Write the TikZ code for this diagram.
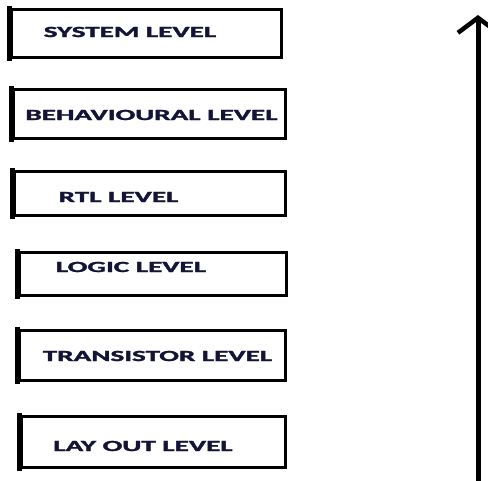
\documentclass[tikz,border=0pt]{standalone}
\usepackage{graphicx}
\usepackage{fontspec}
\setmainfont{Carlito}
\newfontfamily\heavyfont{Carlito Bold}[FakeBold=1.6]
\usetikzlibrary{arrows.meta}
\definecolor{lblcol}{RGB}{20,20,55}
\newcommand{\wide}[1]{\scalebox{1.88}[1]{#1}}
\begin{document}
\begin{tikzpicture}[x=1pt,y=-1pt,
  box/.style={draw=black,line width=3.2pt,fill=none,inner sep=0pt,rectangle},
  lbl/.style={font=\heavyfont\fontsize{15.5}{18}\selectfont,text=lblcol,inner sep=0pt},
  leftedge/.style={line width=5pt,shorten <=-1.6pt,shorten >=-1.6pt}]
\useasboundingbox (0,0) rectangle (488,481);
% boxes
\node[box,minimum width=270pt,minimum height=48pt] (b1) at (146.5,33.5) {};
\node[box,minimum width=272pt,minimum height=49pt] (b2) at (149.5,114) {};
\node[box,minimum width=271pt,minimum height=44pt] (b3) at (150,193.5) {};
\node[box,minimum width=267pt,minimum height=43pt] (b4) at (153,274) {};
\node[box,minimum width=266pt,minimum height=50pt] (b5) at (152.5,355.5) {};
\node[box,minimum width=264pt,minimum height=51pt] (b6) at (153.5,442) {};
\foreach \b in {b1,b2,b3,b4,b5,b6}{\draw[leftedge] (\b.north west) -- (\b.south west);}
% labels
\node[lbl] (t1) at (130,32) {\wide{SYSTEM LEVEL}};
\node[lbl] (t2) at (151.5,115) {\wide{BEHAVIOURAL LEVEL}};
\node[lbl] (t3) at (118.5,197) {\wide{RTL LEVEL}};
\node[lbl] (t4) at (131,267) {\wide{LOGIC LEVEL}};
\node[lbl] (t5) at (157.5,356) {\wide{TRANSISTOR LEVEL}};
\node[lbl] (t6) at (143,446) {\wide{LAY OUT LEVEL}};
% arrow
\coordinate (abot) at (478,490);
\coordinate (atop) at (478,15);
\draw[line width=5pt,-{Straight Barb[length=15pt,width=40pt,line width=4.5pt]}] (abot) -- (atop);
\end{tikzpicture}
\end{document}
